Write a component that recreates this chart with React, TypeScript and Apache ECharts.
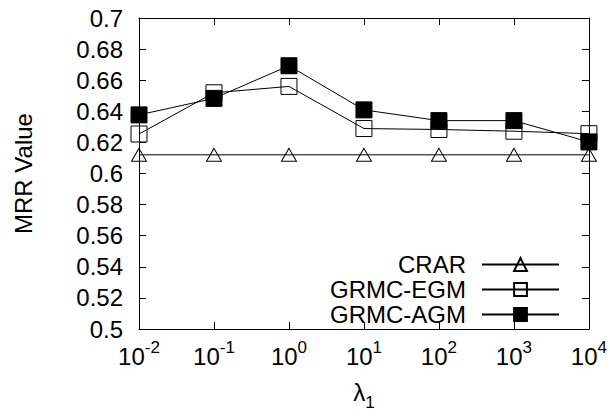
import React, { useEffect, useRef } from "react";
import * as echarts from "echarts";

const exponents = ["-2", "-1", "0", "1", "2", "3", "4"];
const crar = [0.612, 0.612, 0.612, 0.612, 0.612, 0.612, 0.612];
const grmcEgm = [0.6254, 0.6519, 0.656, 0.6289, 0.6283, 0.6272, 0.6256];
const grmcAgm = [0.6377, 0.6483, 0.6693, 0.6409, 0.634, 0.634, 0.6203];
const yTicks = { min: 0.5, max: 0.7, interval: 0.02 };

const FONT = "Liberation Sans";

export default function App() {
  const ref = useRef<HTMLDivElement>(null);
  useEffect(() => {
    if (!ref.current) return;
    const chart = echarts.init(ref.current, null, { renderer: "svg" });
    const axisLine = { show: true, lineStyle: { color: "#000", width: 1 } };
    const tick = { show: true, inside: true, length: 7, lineStyle: { color: "#000", width: 1 } };
    chart.setOption({
      animation: false,
      backgroundColor: "#fff",
      textStyle: { fontFamily: FONT, color: "#000" },
      grid: { left: 139, right: 19, top: 18, bottom: 81 },
      legend: {
        orient: "vertical",
        right: 50,
        top: 252,
        align: "right",
        itemWidth: 77,
        itemHeight: 16,
        itemGap: 0,
        padding: 0,
        textStyle: {
          fontFamily: FONT,
          fontSize: 24,
          color: "#000",
          width: 180,
          align: "right",
          lineHeight: 25,
          padding: [0, 11, 0, 0],
        },
        data: ["CRAR", "GRMC-EGM", "GRMC-AGM"],
      },
      xAxis: [
        {
          type: "category",
          data: exponents,
          boundaryGap: false,
          position: "bottom",
          axisLine,
          axisTick: { ...tick, interval: 0 },
          splitLine: { show: false },
          axisLabel: {
            interval: 0,
            margin: 13,
            formatter: (v: string) => `{b|10}{s|${v}}`,
            rich: {
              b: { fontFamily: FONT, fontSize: 24, lineHeight: 26, color: "#000", verticalAlign: "bottom" },
              s: { fontFamily: FONT, fontSize: 17, lineHeight: 17, color: "#000", verticalAlign: "bottom", padding: [0, 0, 12, 0] },
            },
          },
          name: "{l|λ}{n|1}",
          nameLocation: "middle",
          nameGap: 51,
          nameTextStyle: {
            rich: {
              l: { fontFamily: FONT, fontSize: 24, lineHeight: 22, color: "#000", verticalAlign: "top" },
              n: { fontFamily: FONT, fontSize: 17, lineHeight: 17, color: "#000", verticalAlign: "top", padding: [14, 0, 0, 0] },
            },
          },
        },
        {
          type: "category",
          data: exponents,
          boundaryGap: false,
          position: "top",
          axisLine,
          axisTick: { ...tick, interval: 0 },
          axisLabel: { show: false },
          splitLine: { show: false },
        },
      ],
      yAxis: [
        {
          type: "value",
          min: yTicks.min,
          max: yTicks.max,
          interval: yTicks.interval,
          position: "left",
          axisLine,
          axisTick: tick,
          splitLine: { show: false },
          axisLabel: { fontFamily: FONT, fontSize: 24, color: "#000", margin: 16 },
          name: "MRR Value",
          nameLocation: "middle",
          nameGap: 104,
          nameTextStyle: { fontFamily: FONT, fontSize: 24, color: "#000" },
        },
        {
          type: "value",
          min: yTicks.min,
          max: yTicks.max,
          interval: yTicks.interval,
          position: "right",
          axisLine,
          axisTick: tick,
          axisLabel: { show: false },
          splitLine: { show: false },
        },
      ],
      series: [
        {
          name: "CRAR",
          type: "line",
          data: crar,
          symbol: "triangle",
          symbolSize: [15, 13],
          lineStyle: { color: "#000", width: 1 },
          itemStyle: { color: "rgba(0,0,0,0)", borderColor: "#000", borderWidth: 1 },
        },
        {
          name: "GRMC-EGM",
          type: "line",
          data: grmcEgm,
          symbol: "rect",
          symbolSize: 16,
          lineStyle: { color: "#000", width: 1 },
          itemStyle: { color: "rgba(0,0,0,0)", borderColor: "#000", borderWidth: 1 },
        },
        {
          name: "GRMC-AGM",
          type: "line",
          data: grmcAgm,
          symbol: "rect",
          symbolSize: 16,
          lineStyle: { color: "#000", width: 1 },
          itemStyle: { color: "#000", borderColor: "#000", borderWidth: 1 },
        },
      ],
    });
    return () => chart.dispose();
  }, []);
  return <div ref={ref} style={{ width: 610, height: 416, position: "absolute", left: 0, top: 0 }} />;
}
